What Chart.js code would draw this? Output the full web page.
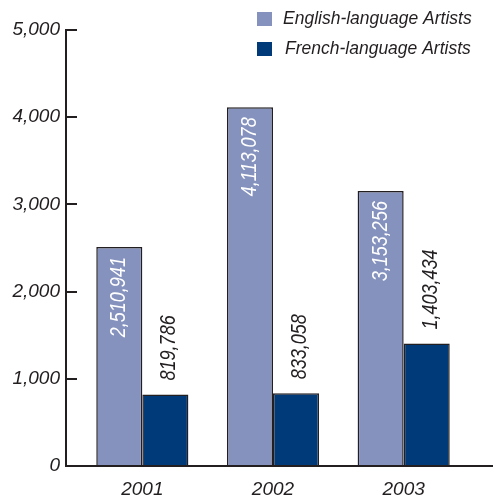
<!DOCTYPE html>
<html>
<head>
<meta charset="utf-8">
<script src="https://cdn.jsdelivr.net/npm/chart.js@4.4.1/dist/chart.umd.min.js"></script>
<style>
  html, body { margin: 0; padding: 0; background: #ffffff; }
</style>
</head>
<body>
<canvas id="artistsChart" width="493" height="500"></canvas>
<script>
// Artists counted per year, by language
const years = ["2001", "2002", "2003"];
const englishArtists = [2510941, 4113078, 3153256];
const frenchArtists = [819786, 833058, 1403434];
const seriesNames = ["English-language Artists", "French-language Artists"];
const yTicks = [0, 1000, 2000, 3000, 4000, 5000];   // thousands

const INK = "#231f20";
const ENGLISH_COLOR = "#8592bd";
const FRENCH_COLOR = "#003a78";
const FONT = "'Liberation Sans', Arial, sans-serif";

const fmt = n => n.toLocaleString("en-US");

// axis lines sit a little left of the first category, so draw them by hand
const axisLines = {
  id: "axisLines",
  afterDatasetsDraw(chart) {
    const { ctx, chartArea } = chart;
    const axisX = chartArea.left - 11;
    ctx.save();
    ctx.strokeStyle = INK;
    ctx.lineWidth = 2;
    ctx.beginPath();
    ctx.moveTo(axisX, chartArea.top - 1);
    ctx.lineTo(axisX, chartArea.bottom);
    ctx.lineTo(chart.width, chartArea.bottom);
    ctx.stroke();
    ctx.restore();
  }
};

// rotated value labels: inside the light bars, above the dark bars
// (squeezed along the text direction for a condensed look)
const valueLabels = {
  id: "valueLabels",
  afterDatasetsDraw(chart) {
    const { ctx } = chart;
    ctx.save();
    ctx.font = "italic 22px " + FONT;
    ctx.textBaseline = "middle";
    chart.data.datasets.forEach((ds, di) => {
      chart.getDatasetMeta(di).data.forEach((bar, i) => {
        const text = fmt(ds.raw[i]);
        ctx.save();
        if (di === 0) {
          ctx.translate(bar.x, bar.y + 10);
          ctx.rotate(-Math.PI / 2);
          ctx.scale(0.82, 1);
          ctx.textAlign = "right";
          ctx.fillStyle = "#ffffff";
        } else {
          ctx.translate(bar.x + 4, bar.y - 14);
          ctx.rotate(-Math.PI / 2);
          ctx.scale(0.82, 1);
          ctx.textAlign = "left";
          ctx.fillStyle = INK;
        }
        ctx.fillText(text, 0, 0);
        ctx.restore();
      });
    });
    ctx.restore();
  }
};

// two-row legend in the top right corner
const cornerLegend = {
  id: "cornerLegend",
  afterDraw(chart) {
    const { ctx } = chart;
    ctx.save();
    ctx.font = "italic 17.5px " + FONT;
    ctx.textBaseline = "middle";
    ctx.textAlign = "left";
    chart.data.datasets.forEach((ds, i) => {
      const y = 12 + i * 30;
      ctx.fillStyle = ds.backgroundColor;
      ctx.fillRect(257, y, 15, 14);
      ctx.fillStyle = INK;
      ctx.fillText(ds.label, 283 + i * 2, y + 7.5);
    });
    ctx.restore();
  }
};

new Chart(document.getElementById("artistsChart"), {
  type: "bar",
  data: {
    labels: years,
    datasets: [
      {
        label: seriesNames[0],
        raw: englishArtists,
        data: englishArtists.map(v => v / 1000),
        backgroundColor: ENGLISH_COLOR,
        borderColor: INK,
        borderWidth: 1.5,
        borderSkipped: "bottom"
      },
      {
        label: seriesNames[1],
        raw: frenchArtists,
        data: frenchArtists.map(v => v / 1000),
        backgroundColor: FRENCH_COLOR,
        borderColor: INK,
        borderWidth: 1.5,
        borderSkipped: "bottom"
      }
    ]
  },
  options: {
    responsive: false,
    animation: false,
    devicePixelRatio: 1,
    layout: { padding: { top: 30, right: 24, bottom: 0, left: 0 } },
    plugins: {
      legend: { display: false },
      tooltip: { enabled: false }
    },
    datasets: {
      bar: { categoryPercentage: 0.705, barPercentage: 1.0 }
    },
    scales: {
      x: {
        offset: true,
        afterFit: scale => { scale.height = 34; },
        grid: { display: false, drawTicks: false },
        border: { display: false },
        ticks: {
          color: INK,
          padding: 16,
          font: { family: FONT, size: 19, style: "italic", lineHeight: 0.8 }
        }
      },
      y: {
        min: yTicks[0],
        max: yTicks[yTicks.length - 1],
        afterBuildTicks: scale => { scale.ticks = yTicks.map(v => ({ value: v })); },
        afterFit: scale => { scale.width = 77; },
        grid: { drawOnChartArea: false, drawTicks: true, tickLength: 11, color: INK, lineWidth: 2 },
        border: { display: false },
        ticks: {
          color: INK,
          padding: 6,
          font: { family: FONT, size: 19, style: "italic" },
          callback: v => fmt(v)
        }
      }
    }
  },
  plugins: [axisLines, valueLabels, cornerLegend]
});
</script>
</body>
</html>
